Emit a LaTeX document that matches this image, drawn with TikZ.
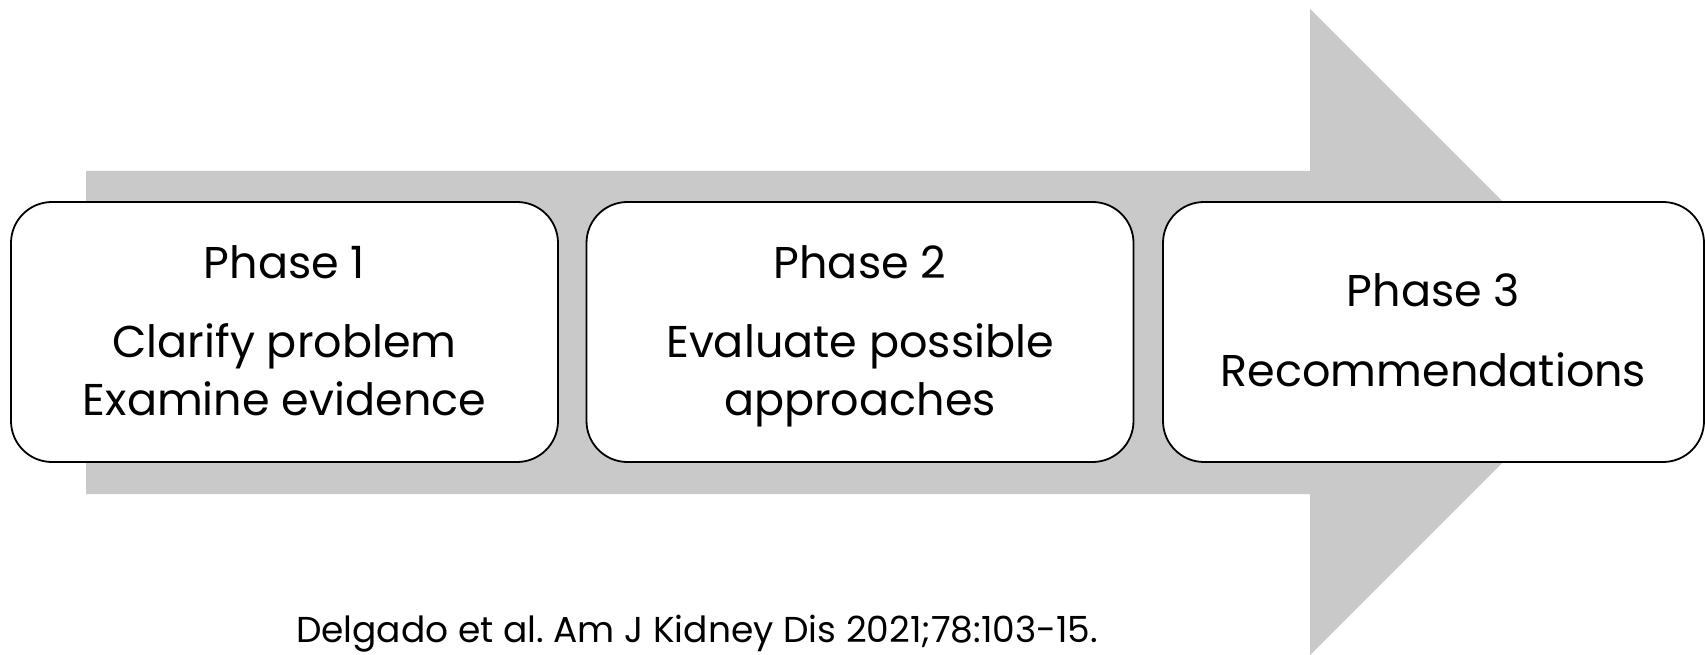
\documentclass[tikz,border=0pt]{standalone}
\usepackage{fontspec}
\setmainfont{Poppins}
\frenchspacing
\definecolor{bandgray}{RGB}{201,201,201}
\begin{document}
\begin{tikzpicture}[x=1pt,y=1pt,
  phasebox/.style={draw=black, line width=1.8pt, fill=white, rounded corners=41pt,
    minimum width=547pt, minimum height=260pt, inner sep=0pt},
  phasetext/.style={anchor=base, inner sep=0pt, font=\fontsize{44.5}{52}\selectfont},
  citetext/.style={anchor=base, inner sep=0pt, font=\fontsize{36}{42}\selectfont},
]
\useasboundingbox (0,0) rectangle (1705,654);
% broad grey arrow behind the three phases
\fill[bandgray] (86,160) -- (1310,160) -- (1310,-1) -- (1633,322)
  -- (1310,645) -- (1310,483) -- (86,483) -- cycle;
% phase boxes
\node[phasebox] (box1) at (284.5,322) {};
\node[phasebox] (box2) at (860,322) {};
\node[phasebox, minimum width=541pt] (box3) at (1433.5,322) {};
% phase labels
\node[phasetext] (t1a) at (box1.center |- 0,375) {Phase 1};
\node[phasetext] (t1b) at (box1.center |- 0,296) {Clarify problem};
\node[phasetext] (t1c) at (box1.center |- 0,239) {Examine evidence};
\node[phasetext] (t2a) at (box2.center |- 0,375) {Phase 2};
\node[phasetext] (t2b) at (box2.center |- 0,296) {Evaluate possible};
\node[phasetext] (t2c) at (box2.center |- 0,239) {approaches};
\node[phasetext] (t3a) at (box3.center |- 0,347) {Phase 3};
\node[phasetext] (t3b) at (box3.center |- 0,268) {Recommendations};
% source
\node[citetext] (cite) at (697,12) {Delgado et al. Am J Kidney Dis 2021;78:103-15.};
\end{tikzpicture}
\end{document}
